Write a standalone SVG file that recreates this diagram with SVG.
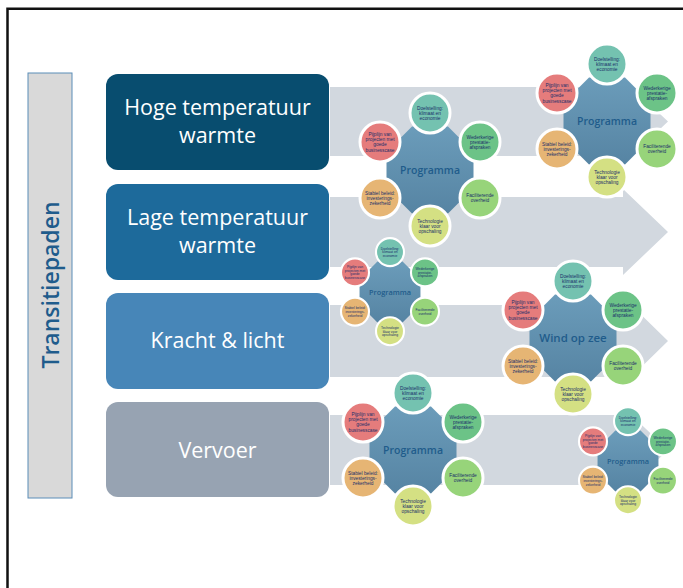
<svg xmlns="http://www.w3.org/2000/svg" xmlns:xlink="http://www.w3.org/1999/xlink" width="683" height="588" viewBox="0 0 683 588">
<style>
.box-t{font-family:"Open Sans","Liberation Sans",sans-serif;font-size:21.5px;fill:#ffffff;text-anchor:middle}
.side-t{font-family:"Open Sans","Liberation Sans",sans-serif;font-size:23px;font-weight:600;fill:#1f5c8c;text-anchor:middle}
.arrow{fill:#d2d8df}
.ct{font-family:"Liberation Sans",Arial,sans-serif;font-size:4.8px;fill:#1b2f6a;text-anchor:middle}
.ctr{font-family:"Open Sans","Liberation Sans",sans-serif;font-size:10.5px;font-weight:600;fill:#1f5c8b;text-anchor:middle}
.circ{stroke:#ffffff;stroke-width:3}
</style>
<defs>
<linearGradient id="oct" x1="0" y1="0" x2="0" y2="1">
<stop offset="0" stop-color="#6b9cba"/>
<stop offset="1" stop-color="#5684a3"/>
</linearGradient>
<g id="cl">
<polygon points="43.5,18 18,43.5 -18,43.5 -43.5,18 -43.5,-18 -18,-43.5 18,-43.5 43.5,-18" fill="url(#oct)"/>
<circle class="circ" cx="0" cy="-57" r="20" fill="#74c2b0"/>
<circle class="circ" cx="50" cy="-28" r="20" fill="#6cc387"/>
<circle class="circ" cx="50" cy="28" r="20" fill="#97d47a"/>
<circle class="circ" cx="0" cy="56" r="20" fill="#d4e083"/>
<circle class="circ" cx="-50" cy="28" r="20" fill="#e6b574"/>
<circle class="circ" cx="-50" cy="-28" r="20" fill="#e57c7c"/>
<text class="ct" x="0" y="-60.3">Doelstelling:</text>
<text class="ct" x="0" y="-55.1">klimaat en</text>
<text class="ct" x="0" y="-49.9">economie</text>
<text class="ct" x="50" y="-31.3">Wederkerige</text>
<text class="ct" x="50" y="-26.1">prestatie-</text>
<text class="ct" x="50" y="-20.9">afspraken</text>
<text class="ct" x="50" y="27.2">Faciliterende</text>
<text class="ct" x="50" y="32.4">overheid</text>
<text class="ct" x="0" y="52.7">Technologie</text>
<text class="ct" x="0" y="57.9">klaar voor</text>
<text class="ct" x="0" y="63.1">opschaling</text>
<text class="ct" x="-50" y="24.7">Stabiel beleid:</text>
<text class="ct" x="-50" y="29.9">investerings-</text>
<text class="ct" x="-50" y="35.1">zekerheid</text>
<text class="ct" x="-50" y="-34">Pijplijn van</text>
<text class="ct" x="-50" y="-28.8">projecten met</text>
<text class="ct" x="-50" y="-23.6">goede</text>
<text class="ct" x="-50" y="-18.4">businesscase</text>
</g>
</defs>
<rect x="0" y="0" width="683" height="588" fill="#ffffff"/>
<g id="frame" stroke="#111111" stroke-width="2.5" fill="none">
<path d="M7.5,588 V8.7 H683"/>
</g>
<g id="side-label">
<rect x="28" y="73" width="44" height="425" fill="#d9d9d9" stroke="#5b8db8" stroke-width="1"/>
<text class="side-t" transform="translate(59,285) rotate(-90)">Transitiepaden</text>
</g>
<g id="arrows">
<path class="arrow" d="M330,87 H623 V79 L668,121.5 L623,164 V156 H330 Z"/>
<path class="arrow" d="M330,197 H623 V189 L668,232 L623,275 V267 H330 Z"/>
<path class="arrow" d="M330,305 H623 V297 L668,341 L623,385 V377 H330 Z"/>
<path class="arrow" d="M330,415 H623 V407 L668,450 L623,493 V485 H330 Z"/>
</g>
<g id="box-hoge">
<rect x="106" y="74" width="223" height="96" rx="12" fill="#084d6f"/>
<text class="box-t" x="217.5" y="115">Hoge temperatuur</text>
<text class="box-t" x="217.5" y="143">warmte</text>
</g>
<g id="box-lage">
<rect x="106" y="184" width="223" height="96" rx="12" fill="#1d6a9b"/>
<text class="box-t" x="217.5" y="225">Lage temperatuur</text>
<text class="box-t" x="217.5" y="253">warmte</text>
</g>
<g id="box-kracht">
<rect x="106" y="293" width="223" height="96" rx="12" fill="#4786b8"/>
<text class="box-t" x="217.5" y="348">Kracht &amp; licht</text>
</g>
<g id="box-vervoer">
<rect x="106" y="402" width="223" height="95" rx="12" fill="#97a3b2"/>
<text class="box-t" x="217.5" y="458">Vervoer</text>
</g>
<g id="cluster-1" transform="translate(607,121)">
<use href="#cl" xlink:href="#cl"/>
<text class="ctr" x="0" y="3.8">Programma</text>
</g>
<g id="cluster-2" transform="translate(430,170)">
<use href="#cl" xlink:href="#cl"/>
<text class="ctr" x="0" y="3.8">Programma</text>
</g>
<g id="cluster-3" transform="translate(390,292) scale(0.7)">
<use href="#cl" xlink:href="#cl"/>
<text class="ctr" x="0" y="3.8">Programma</text>
</g>
<g id="cluster-4" transform="translate(573,338)">
<use href="#cl" xlink:href="#cl"/>
<text class="ctr" x="0" y="4" style="font-size:11.5px">Wind op zee</text>
</g>
<g id="cluster-5" transform="translate(413,450)">
<use href="#cl" xlink:href="#cl"/>
<text class="ctr" x="0" y="3.8">Programma</text>
</g>
<g id="cluster-6" transform="translate(628,461) scale(0.7)">
<use href="#cl" xlink:href="#cl"/>
<text class="ctr" x="0" y="3.8">Programma</text>
</g>
</svg>
